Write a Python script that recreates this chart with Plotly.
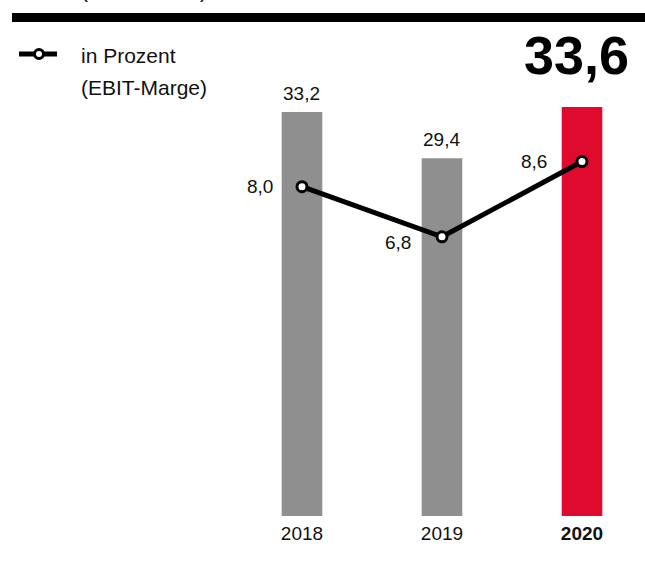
import plotly.graph_objects as go

# ---- data ----
years = ["2018", "2019", "2020"]
year_labels = ["2018", "2019", "<b>2020</b>"]
ebit = [33.2, 29.4, 33.6]           # bars
ebit_labels = ["33,2", "29,4", "33,6"]
margin_pct = [8.0, 6.8, 8.6]        # line (EBIT-Marge, in Prozent)
margin_labels = ["8,0", "6,8", "8,6"]

W, H = 645, 562
T, B = 60, 46
PH = H - T - B

GRAY = "#8f8f8f"
RED = "#e00a2f"
FONT = "Liberation Sans, Arial, sans-serif"

def py(p):  # pixel y -> paper y
    return (H - B - p) / PH

def px(p):  # pixel x -> paper x
    return p / W

fig = go.Figure()

fig.add_trace(go.Bar(
    x=years, y=ebit,
    marker=dict(color=[GRAY, GRAY, RED], line=dict(width=0)),
    width=0.29, yaxis="y", hoverinfo="skip", showlegend=False,
))

fig.add_trace(go.Scatter(
    x=years, y=margin_pct, yaxis="y2", mode="lines+markers",
    line=dict(color="black", width=5),
    marker=dict(size=10, color="white", line=dict(color="black", width=3)),
    hoverinfo="skip", showlegend=False,
))

annotations = []
# bar value labels (not for the highlighted year, shown big instead)
for i, (v, lab) in enumerate(zip(ebit[:2], ebit_labels[:2])):
    annotations.append(dict(x=i, y=v, xref="x", yref="y", text=lab,
                            showarrow=False, yanchor="bottom", yshift=6,
                            font=dict(size=19, color="#111", family=FONT)))
# line value labels
shifts = [(-27, 0), (-29, -6), (-33, 0)]
for i, (v, lab, (dx, dy)) in enumerate(zip(margin_pct, margin_labels, shifts)):
    annotations.append(dict(x=i, y=v, xref="x", yref="y2", text=lab,
                            showarrow=False, xanchor="right", yanchor="middle",
                            xshift=dx, yshift=dy,
                            font=dict(size=19, color="#111", family=FONT)))
# big highlighted value
annotations.append(dict(x=px(631), y=py(55), xref="paper", yref="paper",
                        text="<b>" + ebit_labels[2] + "</b>", showarrow=False,
                        xanchor="right", yanchor="middle",
                        font=dict(size=54, color="black", family=FONT)))
# legend text
annotations.append(dict(x=px(79), y=py(56), xref="paper", yref="paper",
                        text="in Prozent", showarrow=False, xanchor="left",
                        yanchor="middle",
                        font=dict(size=21, color="#111", family=FONT)))
annotations.append(dict(x=px(79), y=py(88), xref="paper", yref="paper",
                        text="(EBIT-Marge)", showarrow=False, xanchor="left",
                        yanchor="middle",
                        font=dict(size=21, color="#111", family=FONT)))
# cut-off unit line at top
annotations.append(dict(x=px(79), y=py(-10), xref="paper", yref="paper",
                        text="(in Mio. Euro)", showarrow=False, xanchor="left",
                        yanchor="middle",
                        font=dict(size=21, color="#111", family=FONT)))

shapes = [
    # thick black rule
    dict(type="rect", xref="paper", yref="paper",
         x0=px(12), x1=px(645), y0=py(22), y1=py(13),
         fillcolor="black", line=dict(width=0)),
    # legend icon line
    dict(type="line", xref="paper", yref="paper",
         x0=px(19), x1=px(57), y0=py(54), y1=py(54),
         line=dict(color="black", width=5)),
    # legend icon circle
    dict(type="circle", xref="paper", yref="paper",
         x0=px(34.5), x1=px(43.5), y0=py(58.5), y1=py(49.5),
         fillcolor="white", line=dict(color="black", width=3)),
]

fig.update_layout(
    width=W, height=H,
    margin=dict(l=0, r=0, t=T, b=B),
    paper_bgcolor="white", plot_bgcolor="white",
    xaxis=dict(type="category", range=[-2.157, 2.45], tickvals=years,
               ticktext=year_labels, showgrid=False, zeroline=False,
               showline=False, ticks="", ticklabelstandoff=4,
               tickfont=dict(size=19, color="#111", family=FONT)),
    yaxis=dict(range=[0, PH / 12.17], visible=False, showgrid=False,
               zeroline=False),
    yaxis2=dict(range=[0.12, 11.03], overlaying="y", visible=False,
                showgrid=False, zeroline=False),
    annotations=annotations, shapes=shapes,
    font=dict(family=FONT),
)

fig.write_html("out.html",
               config={"displayModeBar": False, "staticPlot": True},
               post_script="document.body.style.margin='0';document.body.style.overflow='hidden';")
